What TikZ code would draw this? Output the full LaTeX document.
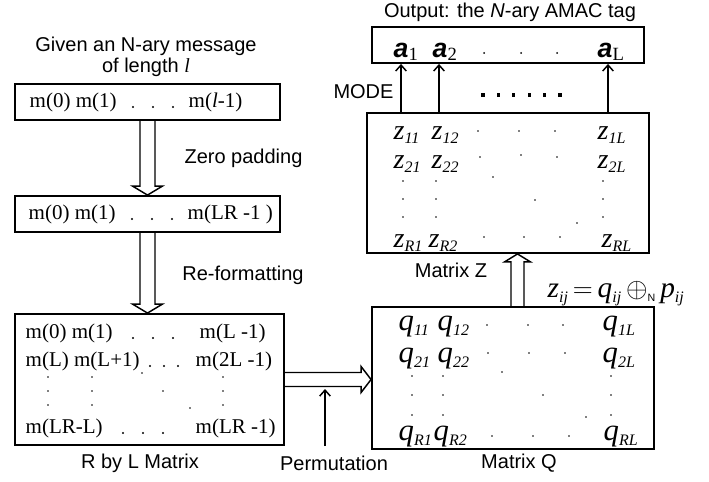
\documentclass[tikz,border=0pt]{standalone}
\usepackage{fontspec}
\setmainfont{Liberation Serif}
\setsansfont{Liberation Sans}
\usetikzlibrary{arrows.meta,calc}
\newcommand\sbs[1]{\raisebox{-4pt}{\fontsize{12}{12}\selectfont\itshape #1}}
\def\px{0.75pt}

\begin{document}
\begin{tikzpicture}[
  x=0.75pt, y=-0.75pt, line width=1.1pt,
  box/.style={draw, line width=1.4pt, inner sep=0pt},
  lab/.style={font=\sffamily\fontsize{15}{15.75}\selectfont, inner sep=0pt},
  msg/.style={font=\fontsize{15.75}{18}\selectfont, inner sep=0pt, anchor=west},
  ent/.style={font=\fontsize{23}{23}\selectfont\itshape, inner sep=0pt, anchor=base west},
  ant/.style={font=\fontsize{20}{20}\selectfont, inner sep=0pt, anchor=base west},
  hollow/.style={draw, line width=1.1pt, line join=miter},
  tap/.style={draw, line width=1.1pt, -{Straight Barb[length=4.5pt,width=8pt]}},
]
  \useasboundingbox (0,0) rectangle (709,481);

  % Left column: message, padded message, R by L matrix.
  \node[box, minimum width=265*\px, minimum height=36*\px] (msg) at (147.5,102) {};
  \node[box, minimum width=265*\px, minimum height=36*\px] (pad) at (147.5,214) {};
  \node[box, minimum width=269*\px, minimum height=131*\px] (rbl) at (149.5,379.5) {};
  \node[lab, align=center] (given) at (146,57) {Given an N-ary message\\of length {\rmfamily\itshape l}};

  \node[msg] (m0) at (29,102) {m(0) m(1)};
  \node[msg] (ml) at (188,102) {m(\textit{l}-1)};
  \node[msg] (p0) at (28,214) {m(0) m(1)};
  \node[msg] (plr) at (187,214) {m(LR -1 )};
  \node[msg] (r1a) at (25,333) {m(0) m(1)};
  \node[msg] (r1b) at (199,333) {m(L -1)};
  \node[msg] (r2a) at (25,361) {m(L) m(L+1)};
  \node[msg] (r2b) at (195,361) {m(2L -1)};
  \node[msg] (rRa) at (25,428) {m(LR-L)};
  \node[msg] (rRb) at (195,428) {m(LR -1)};
  \foreach \x/\y in {133/107,153/107,173/107, 132/219,152/219,172/219,
                     133/338,153/338,173/338, 150/366,164/366,178/366,
                     123/433,143/433,163/433}
    \fill (\x,\y) circle (1.1);
  \foreach \x/\y in {48/377,92/377,223/377, 48/391,92/391,223/391, 48/405,92/405,223/405,
                     142/373,163/391,190/408}
    \fill (\x,\y) circle (0.8);

  % Right column: matrix Q, matrix Z, output tag.
  \node[box, minimum width=282*\px, minimum height=142*\px] (matq) at (513,378) {};
  \node[box, minimum width=282*\px, minimum height=140*\px] (matz) at (508,183) {};
  \node[box, minimum width=272*\px, minimum height=36*\px] (tag) at (508,45) {};

  \foreach \n/\x/\y/\s in {q11/398/330/11, q12/437/330/12, q1L/602/330/1L,
                           q21/398/362/21, q22/437/362/22, q2L/602/362/2L,
                           qR1/398/440/R1, qR2/433/440/R2, qRL/603/440/RL}
    \node[ent] (\n) at (\x,\y) {q\sbs{\s}};
  \foreach \n/\x/\y/\s in {z11/393/139/11, z12/431/139/12, z1L/597/139/1L,
                           z21/393/168/21, z22/431/168/22, z2L/597/168/2L,
                           zR1/393/247/R1, zR2/428/247/R2, zRL/601/247/RL}
    \node[ent, font=\fontsize{21}{21}\selectfont\itshape] (\n) at (\x,\y) {z\raisebox{1pt}{\sbs{\s}}};
  \foreach \x/\y in {487/325,528/325,563/325, 488/353,529/353,565/353, 492/436,533/436,569/436,
                     412/376,443/376,611/376, 412/395,443/395,611/395, 412/415,443/415,611/415,
                     502/372,543/395,586/417,
                     478/131,519/131,555/131, 480/157,521/155,557/157, 484/237,524/237,560/237,
                     403/181,436/181,603/181, 403/199,436/199,603/199, 403/217,436/217,603/217,
                     493/177,535/200,577/223}
    \fill (\x,\y) circle (0.8);

  \node[ant] (a1) at (393,58) {{\sffamily\bfseries\itshape a}\raisebox{-2pt}{\fontsize{14}{14}\selectfont 1}};
  \node[ant] (a2) at (432,58) {{\sffamily\bfseries\itshape a}\raisebox{-2pt}{\fontsize{14}{14}\selectfont 2}};
  \node[ant] (aL) at (597,58) {{\sffamily\bfseries\itshape a}\raisebox{-2pt}{\fontsize{14}{14}\selectfont L}};
  \foreach \x in {484,521,557} \fill (\x,53) circle (1);

  % Labels.
  \node[lab] (zero) at (243.5,158) {Zero padding};
  \node[lab] (refmt) at (243,275) {Re-formatting};
  \node[lab] (rbllab) at (140,463) {R by L Matrix};
  \node[lab] (permlab) at (334,463) {Permutation};
  \node[lab] (qlab) at (519,463) {Matrix Q};
  \node[lab] (zlab) at (451,270) {Matrix Z};
  \node[lab] (mode) at (363.5,92) {MODE};
  \node[lab] (outlab) at (510,12) {Output: the \textit{N}-ary AMAC tag};
  \node[ent, font=\fontsize{22}{22}\selectfont] (rule) at (547,297)
    {\textit{z}\sbs{ij}\,$=$\,\textit{q}\sbs{ij}\,$\oplus$\raisebox{-3pt}{\sffamily\fontsize{8}{8}\selectfont N}\,\textit{p}\sbs{ij}};

  % Hollow block arrows between the stages.
  \draw[hollow] ($(msg.south)+(-7.5,0)$) -- ($(pad.north)+(-7.5,-9)$) -- ($(pad.north)+(-15,-9)$)
    -- (pad.north) -- ($(pad.north)+(15,-9)$) -- ($(pad.north)+(7.5,-9)$) -- ($(msg.south)+(7.5,0)$);
  \draw[hollow] ($(pad.south)+(-7.5,0)$) -- ($(pad.south |- rbl.north)+(-7.5,-9)$) -- ($(pad.south |- rbl.north)+(-15,-9)$)
    -- (pad.south |- rbl.north) -- ($(pad.south |- rbl.north)+(15,-9)$) -- ($(pad.south |- rbl.north)+(7.5,-9)$)
    -- ($(pad.south)+(7.5,0)$);
  \draw[hollow] ($(rbl.east)+(0,-7)$) -- ($(rbl.east -| matq.west)+(-10,-7)$) -- ($(rbl.east -| matq.west)+(-10,-13)$)
    -- (rbl.east -| matq.west) -- ($(rbl.east -| matq.west)+(-10,13)$) -- ($(rbl.east -| matq.west)+(-10,7)$)
    -- ($(rbl.east)+(0,7)$);
  \coordinate (upx) at (517.5,0);
  \draw[hollow] ($(matq.north -| upx)+(-6.5,0)$) -- ($(matz.south -| upx)+(-6.5,8)$) -- ($(matz.south -| upx)+(-13,8)$)
    -- (matz.south -| upx) -- ($(matz.south -| upx)+(13,8)$) -- ($(matz.south -| upx)+(6.5,8)$)
    -- ($(matq.north -| upx)+(6.5,0)$);

  % Permutation input and MODE taps.
  \coordinate (permfoot) at (325,446);
  \coordinate (permtip) at (325,389);
  \draw[tap] (permfoot) -- (permtip);
  \foreach \dx in {-107,-69,100}
    \draw[tap] ($(matz.north)+(\dx,0)$) -- ($(tag.south)+(\dx,0)$);
  \foreach \i in {0,...,5}
    \fill (481.4+15.4*\i,93.4) rectangle ++(3.2,3.2);
\end{tikzpicture}
\end{document}
